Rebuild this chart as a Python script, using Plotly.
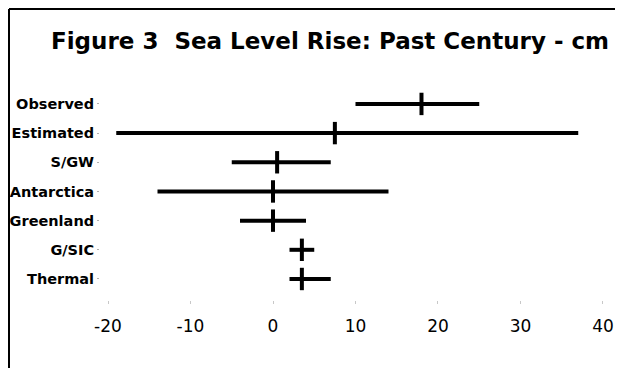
import plotly.graph_objects as go

# ---- data ----
categories = ["Observed", "Estimated", "S/GW", "Antarctica", "Greenland", "G/SIC", "Thermal"]
low_cm = [10, -19, -5, -14, -4, 2, 2]
central_cm = [18, 7.5, 0.5, 0, 0, 3.5, 3.5]
high_cm = [25, 37, 7, 14, 4, 5, 7]
x_ticks = [-20, -10, 0, 10, 20, 30, 40]
title_text = "Figure 3  Sea Level Rise: Past Century - cm"

# page body has an 8px margin, so the figure is drawn 8px smaller
OFF = 8
W, H = 623 - OFF, 368 - OFF
L = 100 - OFF
T = 80 - OFF
R = W - (610 - OFF)
B = H - (300 - OFF)
PW, PH = W - L - R, H - T - B

def px_x(px):  # px in window coordinates
    return (px - OFF - L) / PW

def px_y(py):
    return (H - B - (py - OFF)) / PH

err_plus = [h - c for h, c in zip(high_cm, central_cm)]
err_minus = [c - l for c, l in zip(central_cm, low_cm)]

fig = go.Figure()
fig.add_trace(go.Scatter(
    x=central_cm,
    y=list(range(len(categories))),
    mode="markers",
    marker=dict(symbol="line-ns", size=16, color="black",
                line=dict(color="black", width=4)),
    error_x=dict(type="data", symmetric=False, array=err_plus,
                 arrayminus=err_minus, thickness=4, width=0, color="black"),
    showlegend=False,
    hoverinfo="skip",
))

fig.update_layout(
    width=W, height=H,
    margin=dict(l=L, r=R, t=T, b=B, pad=0, autoexpand=False),
    paper_bgcolor="white", plot_bgcolor="white",
    xaxis=dict(
        range=[-20.97, 40.85],
        tickvals=x_ticks,
        ticktext=[str(v) for v in x_ticks],
        showgrid=False, zeroline=False, showline=False,
        automargin=False,
        ticks="outside", ticklen=3, tickcolor="#c8c8c8",
        tickfont=dict(family="DejaVu Sans", size=17, color="black"),
        ticklabelstandoff=8,
    ),
    yaxis=dict(
        range=[6.72, -0.82],
        tickvals=list(range(len(categories))),
        ticktext=categories,
        showgrid=False, zeroline=False, showline=False,
        automargin=False,
        ticks="outside", ticklen=2, tickwidth=1, tickcolor="#b0b0b0",
        tickfont=dict(family="DejaVu Sans", size=14.5, color="black", weight="bold"),
    ),
    annotations=[dict(
        text="<b>" + title_text + "</b>",
        xref="paper", yref="paper",
        x=px_x(330), y=px_y(41), xanchor="center", yanchor="middle",
        showarrow=False,
        font=dict(family="DejaVu Sans", size=23, color="black"),
    )],
    shapes=[
        dict(type="line", xref="paper", yref="paper",
             x0=px_x(9), x1=px_x(9), y0=px_y(9), y1=px_y(368),
             line=dict(color="black", width=2)),
        dict(type="line", xref="paper", yref="paper",
             x0=px_x(9), x1=px_x(623), y0=px_y(9), y1=px_y(9),
             line=dict(color="black", width=2)),
    ],
)

fig.write_html("out.html")
